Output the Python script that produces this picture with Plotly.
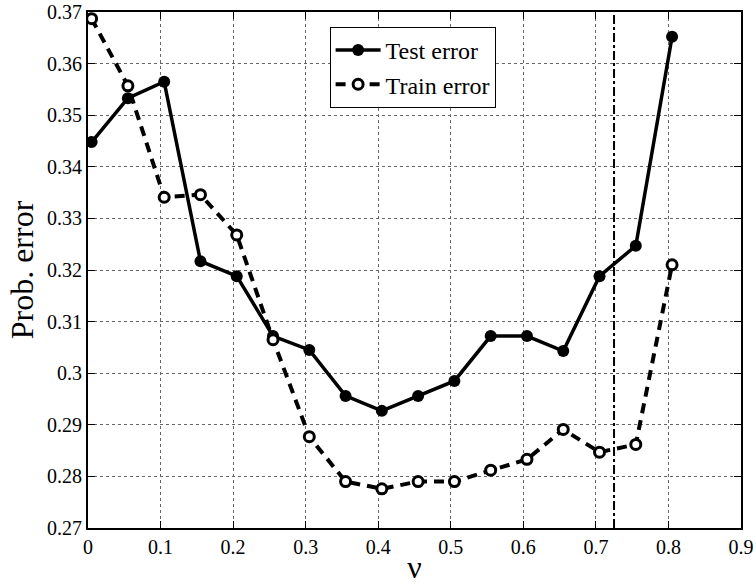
import plotly.graph_objects as go

nu = [0.005, 0.055, 0.105, 0.155, 0.205, 0.255, 0.305, 0.355, 0.405,
      0.455, 0.505, 0.555, 0.605, 0.655, 0.705, 0.755, 0.805]
test_error = [0.3448, 0.3533, 0.3565, 0.3217, 0.3188, 0.3072, 0.3045, 0.2956, 0.2927,
              0.2956, 0.2985, 0.3072, 0.3072, 0.3043, 0.3188, 0.3247, 0.3652]
train_error = [0.3687, 0.3557, 0.3341, 0.3346, 0.3268, 0.3065, 0.2877, 0.2790, 0.2776,
               0.2790, 0.2790, 0.2812, 0.2833, 0.2891, 0.2847, 0.2862, 0.3210]
nu_selected = 0.725

x_ticks = [0, 0.1, 0.2, 0.3, 0.4, 0.5, 0.6, 0.7, 0.8, 0.9]
x_ticklabels = ["0", "0.1", "0.2", "0.3", "0.4", "0.5", "0.6", "0.7", "0.8", "0.9"]
y_ticks = [0.27, 0.28, 0.29, 0.30, 0.31, 0.32, 0.33, 0.34, 0.35, 0.36, 0.37]
y_ticklabels = ["0.27", "0.28", "0.29", "0.3", "0.31", "0.32", "0.33", "0.34", "0.35", "0.36", "0.37"]

FONT = "Liberation Serif"

fig = go.Figure()
fig.add_trace(go.Scatter(
    x=nu, y=test_error, name="Test error", mode="lines+markers",
    line=dict(color="black", width=3.5, dash="solid"),
    marker=dict(symbol="circle", size=12, color="black", line=dict(width=0)),
))
fig.add_trace(go.Scatter(
    x=nu, y=train_error, name="Train error", mode="lines+markers",
    line=dict(color="black", width=4, dash="10px,7px"),
    marker=dict(symbol="circle", size=10, color="white", line=dict(color="black", width=3)),
))

fig.add_shape(type="line", xref="x", yref="paper", x0=nu_selected, x1=nu_selected,
              y0=0, y1=1, line=dict(color="black", width=2, dash="dashdot"))

axis_common = dict(
    showline=True, linecolor="black", linewidth=2, mirror="ticks",
    ticks="inside", ticklen=7, tickwidth=1, tickcolor="black",
    showgrid=True, gridcolor="#666666", gridwidth=1, griddash="dot",
    zeroline=False, tickfont=dict(family=FONT, size=20, color="black"),
)

fig.update_xaxes(range=[0, 0.9], tickvals=x_ticks, ticktext=x_ticklabels,
                 title=dict(text="ν", font=dict(family=FONT, size=32, color="black"), standoff=4),
                 **axis_common)
fig.update_yaxes(range=[0.27, 0.37], tickvals=y_ticks, ticktext=y_ticklabels,
                 title=dict(text="Prob. error", font=dict(family=FONT, size=32, color="black"), standoff=4),
                 **axis_common)

fig.update_layout(
    width=756, height=585,
    margin=dict(l=88, r=15, t=12, b=57, autoexpand=False),
    paper_bgcolor="white", plot_bgcolor="white",
    showlegend=True,
    legend=dict(x=0.370, y=0.971, xanchor="left", yanchor="top",
                bgcolor="white", bordercolor="black", borderwidth=1,
                font=dict(family=FONT, size=24, color="black"),
                tracegroupgap=0, itemwidth=45),
    font=dict(family=FONT, color="black"),
)

fig.write_html("out.html")
